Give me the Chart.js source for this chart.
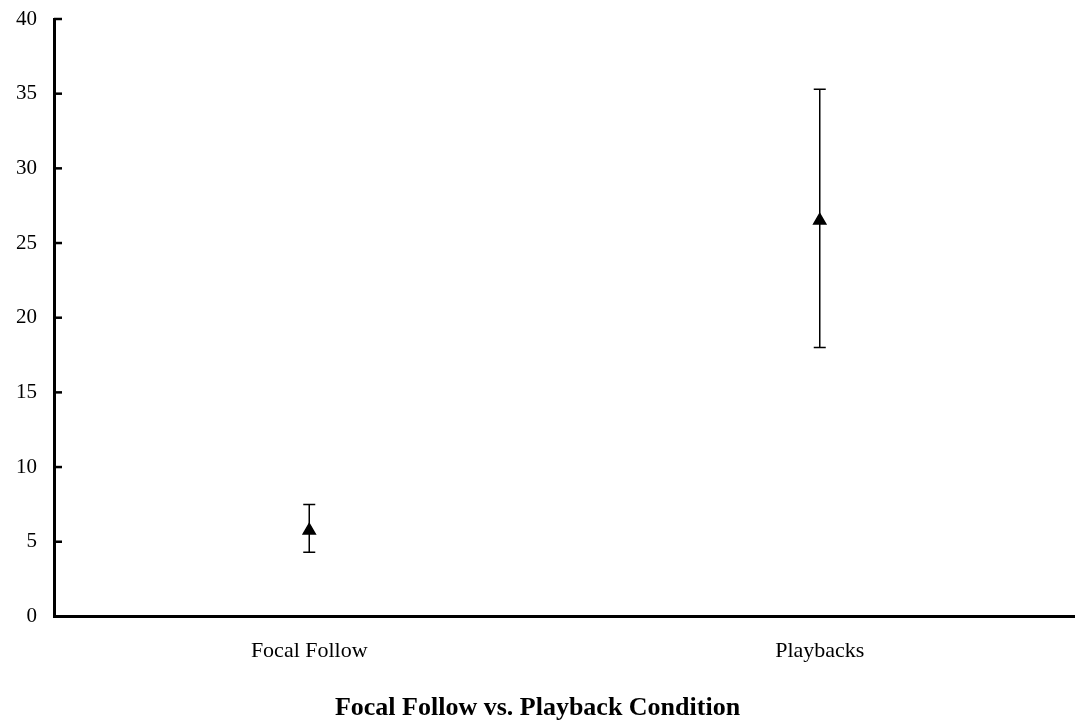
<!DOCTYPE html>
<html>
<head>
<meta charset="utf-8">
<script src="https://cdn.jsdelivr.net/npm/chart.js@4"></script>
<style>
  html, body { margin: 0; padding: 0; background: #fff; }
  canvas { display: block; }
</style>
</head>
<body>
<canvas id="chart" width="1075" height="725"></canvas>
<script>
// Chart values.
const categories = ['Focal Follow', 'Playbacks'];
const means = [5.75, 26.5];
const lowerBounds = [4.3, 18.0];
const upperBounds = [7.5, 35.3];
const yTickValues = [0, 5, 10, 15, 20, 25, 30, 35, 40];
const chartTitle = 'Focal Follow vs. Playback Condition';

const serif = '"Liberation Serif", "Times New Roman", serif';

// Drop the extra room Chart.js keeps for edge labels; layout padding handles it.
function noEdgePadding(scale) {
    scale.paddingTop = 0;
    scale.paddingBottom = 0;
    scale.paddingLeft = 0;
    scale.paddingRight = 0;
}

// Draws the vertical error bars with caps, using the chart's scales.
const errorBars = {
    id: 'errorBars',
    beforeDatasetsDraw(chart) {
        const { ctx, scales: { x, y } } = chart;
        const cap = 6;
        ctx.save();
        ctx.strokeStyle = '#000';
        ctx.lineWidth = 1.5;
        categories.forEach((c, i) => {
            const px = x.getPixelForValue(i);
            const top = y.getPixelForValue(upperBounds[i]);
            const bottom = y.getPixelForValue(lowerBounds[i]);
            ctx.beginPath();
            ctx.moveTo(px, top);
            ctx.lineTo(px, bottom);
            ctx.moveTo(px - cap, top);
            ctx.lineTo(px + cap, top);
            ctx.moveTo(px - cap, bottom);
            ctx.lineTo(px + cap, bottom);
            ctx.stroke();
        });
        ctx.restore();
    }
};

// Tick marks on the y axis point into the plot area.
const innerTicks = {
    id: 'innerTicks',
    afterDraw(chart) {
        const { ctx, chartArea, scales: { y } } = chart;
        ctx.save();
        ctx.strokeStyle = '#000';
        ctx.lineWidth = 2.5;
        yTickValues.forEach(v => {
            const py = y.getPixelForValue(v);
            ctx.beginPath();
            ctx.moveTo(chartArea.left, py);
            ctx.lineTo(chartArea.left + 8, py);
            ctx.stroke();
        });
        ctx.restore();
    }
};

const ctx = document.getElementById('chart').getContext('2d');
new Chart(ctx, {
    type: 'line',
    data: {
        labels: categories,
        datasets: [{
            data: means,
            showLine: false,
            pointStyle: 'triangle',
            pointRadius: 7,
            pointBorderWidth: 1.5,
            pointBackgroundColor: '#000',
            pointBorderColor: '#000'
        }]
    },
    options: {
        responsive: false,
        animation: false,
        layout: {
            autoPadding: false,
            padding: { top: 19, right: 0, bottom: 0, left: 0 }
        },
        plugins: {
            legend: { display: false },
            tooltip: { enabled: false },
            title: {
                display: true,
                text: chartTitle,
                position: 'bottom',
                color: '#000',
                font: { family: serif, size: 26, weight: 'bold' },
                padding: { top: 6, bottom: 1 }
            }
        },
        scales: {
            x: {
                offset: true,
                afterFit: noEdgePadding,
                grid: { display: false, drawTicks: false },
                border: { display: true, color: '#000', width: 3 },
                ticks: {
                    color: '#000',
                    padding: 22,
                    font: { family: serif, size: 22 }
                }
            },
            y: {
                min: 0,
                max: 40,
                afterFit(scale) {
                    noEdgePadding(scale);
                    scale.width = 54;
                },
                afterBuildTicks(scale) {
                    scale.ticks = yTickValues.map(v => ({ value: v }));
                },
                grid: { display: false, drawTicks: false },
                border: { display: true, color: '#000', width: 3 },
                ticks: {
                    color: '#000',
                    padding: 17,
                    font: { family: serif, size: 21 }
                }
            }
        }
    },
    plugins: [errorBars, innerTicks]
});
</script>
</body>
</html>
